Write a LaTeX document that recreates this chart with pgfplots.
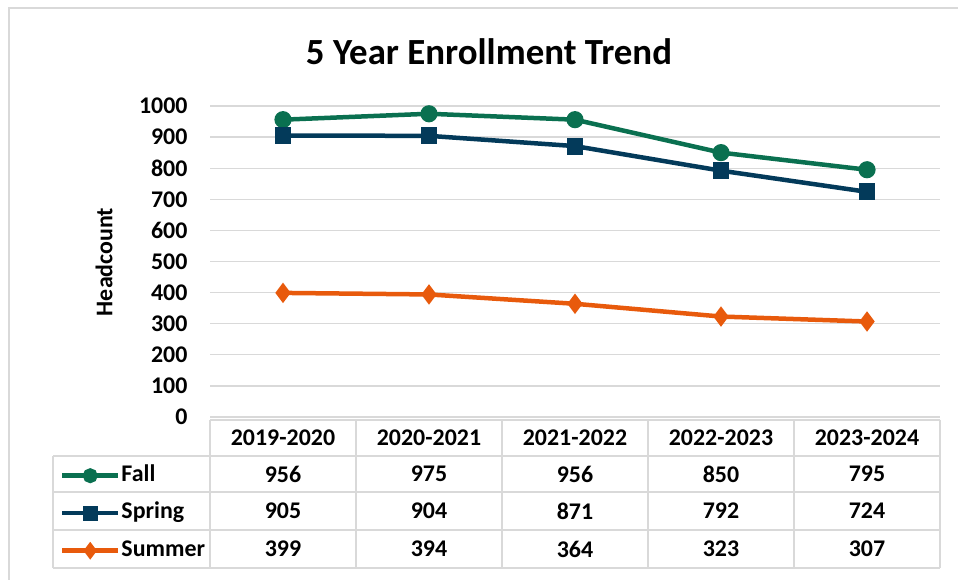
\documentclass[border=0pt]{standalone}
\usepackage{fontspec}
\setmainfont{Carlito}
\usepackage{pgfplots}
\usepackage{pgfplotstable}
\pgfplotsset{compat=1.18}
\definecolor{cFall}{HTML}{0A7050}
\definecolor{cSpring}{HTML}{033A5A}
\definecolor{cSummer}{HTML}{E85A0C}
\definecolor{cGrid}{HTML}{D9D9D9}

\pgfplotstableread[col sep=comma]{
year,fall,spring,summer
2019-2020,956,905,399
2020-2021,975,904,394
2021-2022,956,871,364
2022-2023,850,792,323
2023-2024,795,724,307
}\enroll

\begin{document}
\begin{tikzpicture}[x=1bp, y=1bp, font=\bfseries\fontsize{24}{28}\selectfont]
\path[use as bounding box] (0,0) rectangle (958,580);
% chart frame (cropped on right and bottom)
\draw[cGrid, line width=1.5bp] (9,0) -- (9,572) -- (958,572);
\node[font=\bfseries\fontsize{37}{42}\selectfont] at (489,528) {5 Year Enrollment Trend};
\node[rotate=90] at (104,318) {Headcount};
\begin{axis}[
    at={(210bp,163bp)}, anchor=south west,
    scale only axis, width=730bp, height=311bp,
    xmin=-0.5, xmax=4.5, ymin=0, ymax=1000,
    ytick={0,100,...,1000}, xtick=\empty,
    ymajorgrids, grid style={cGrid, line width=1.3bp},
    axis line style={draw=none}, major tick length=0pt,
    yticklabel style={font=\bfseries\fontsize{24}{28}\selectfont, xshift=-19bp},
    /pgf/number format/assume math mode=true,
    /pgf/number format/set thousands separator={},
    clip=false,
    legend image code/.code={\draw[mark repeat=2, mark phase=2, #1, mark size=5.2bp] plot coordinates {(0bp,0bp) (28bp,0bp) (56bp,0bp)};},
    legend cell align=left,
    legend style={draw=none, fill=none, inner sep=0pt, outer sep=0pt,
        at={(rel axis cs:-0.2055,-0.155)}, anchor=north west,
        row sep=16.5bp, column sep=1bp,
        nodes={inner sep=0pt, text height=16bp, text depth=5bp, font=\bfseries\fontsize{24}{28}\selectfont}},
]
\addplot[cFall, line width=4.5bp, mark=*, mark size=6.3bp, mark options={solid}]
    table[x expr=\coordindex, y=fall] {\enroll};
\addlegendentry{Fall}
\addplot[cSpring, line width=4.5bp, mark=square*, mark size=6.2bp, mark options={solid}]
    table[x expr=\coordindex, y=spring] {\enroll};
\addlegendentry{Spring}
\addplot[cSummer, line width=4.5bp, mark=diamond*, mark size=6.5bp, mark options={solid}]
    table[x expr=\coordindex, y=summer] {\enroll};
\addlegendentry{Summer}
\end{axis}
% data table grid
\begin{scope}[cGrid, line width=1.5bp]
\draw (210,160) -- (940,160);
\foreach \yy in {124,88,50,12} \draw (53,\yy) -- (940,\yy);
\draw (53,124) -- (53,12);
\foreach \xx in {210,356,502,648,794,940} \draw (\xx,160) -- (\xx,12);
\end{scope}
\foreach \i in {0,...,4} {
  \pgfmathsetmacro{\cx}{283+146*\i}
  \pgfplotstablegetelem{\i}{year}\of\enroll
  \node at (\cx,142) {\pgfplotsretval};
  \pgfplotstablegetelem{\i}{fall}\of\enroll
  \node at (\cx,106) {\pgfplotsretval};
  \pgfplotstablegetelem{\i}{spring}\of\enroll
  \node at (\cx,69) {\pgfplotsretval};
  \pgfplotstablegetelem{\i}{summer}\of\enroll
  \node at (\cx,31) {\pgfplotsretval};
}
\end{tikzpicture}
\end{document}
